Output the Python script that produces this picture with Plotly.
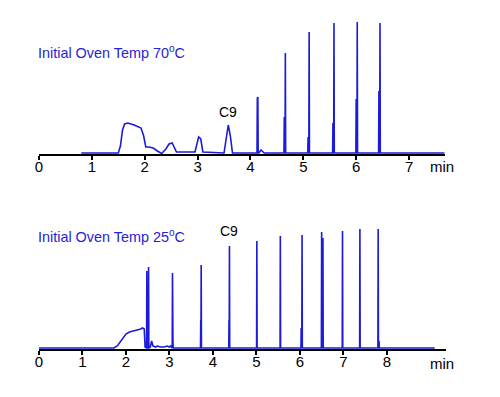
import plotly.graph_objects as go

# The page body has an 8px margin; the figure is sized so that it plus the
# margin fills the 500x397 window exactly.
OFF = 8
W, H = 500 - 2 * OFF, 397 - 2 * OFF

# ---------------- data: Initial Oven Temp 70 C (top) ----------------
top_hump_t = [0.80, 1.50, 1.54, 1.58, 1.62, 1.68, 1.80, 1.93, 1.98, 2.02, 2.08, 2.16, 2.24, 2.32,
              2.40, 2.46, 2.52, 2.56, 2.60, 2.95, 2.99, 3.02, 3.06, 3.10, 3.50, 3.54, 3.58, 3.62, 3.66, 4.08]
top_hump_y = [1, 1, 8, 24, 30, 31, 29, 26, 18, 7, 7, 6, 3, 0.5,
              5, 10, 11, 7, 2, 2, 12, 17, 15, 2, 1, 14, 29, 18, 1, 1]
top_peak_t = [4.14, 4.66, 5.11, 5.58, 6.02, 6.45]
top_peak_h = [57, 101, 122, 131, 132, 131]
top_sh_t = [4.13, 4.64, 5.09, 5.56, 6.00, 6.43]
top_sh_h = [56, 37, 17, 31, 55, 63]
top_end_t = [4.16, 4.20, 4.26, 7.67]
top_end_y = [1, 4, 1, 1]
top_ticks = [0, 1, 2, 3, 4, 5, 6, 7]

# ---------------- data: Initial Oven Temp 25 C (bottom) ----------------
bot_hump_t = [0.00, 1.72, 1.80, 1.88, 1.95, 2.00, 2.08, 2.18, 2.28, 2.34, 2.38, 2.42, 2.44]
bot_hump_y = [1, 1, 3, 8, 13, 15, 17, 18, 19, 20, 21, 20, 2]
bot_noise_t = [2.56, 2.59, 2.62, 2.68, 2.72, 2.80, 2.88, 2.95, 3.00, 3.03]
bot_noise_y = [2, 8, 3, 2, 3, 2, 2, 3, 2, 3]
bot_peak_t = [2.48, 2.52, 3.07, 3.73, 4.38, 5.01, 5.55, 6.05, 6.50, 6.53, 6.98, 7.38, 7.80]
bot_peak_h = [78, 82, 76, 84, 103, 108, 113, 114, 117, 111, 118, 120, 120]
bot_sh_t = [3.08, 3.72, 4.37, 6.03, 7.82]
bot_sh_h = [10, 29, 29, 21, 8]
bot_end_t = [9.10]
bot_ticks = [0, 1, 2, 3, 4, 5, 6, 7, 8]

BLUE = "#1b1bd9"
TITLE_BLUE = "#2424d4"
FONT = "Liberation Sans, Arial, sans-serif"


def px(p):
    return (p - OFF) / W


def py(p):
    return 1 - (p - OFF) / H


def build(hump_t, hump_y, peaks, shoulders, tail_t, tail_y, extra=None):
    w = 0.006
    events = []
    for t, y in zip(hump_t, hump_y):
        events.append((t, 0, [(t, y)]))
    if extra:
        for t, y in extra:
            events.append((t, 0, [(t, y)]))
    for t, h in list(zip(*peaks)) + list(zip(*shoulders)):
        events.append((t, 1, [(t - w, 1), (t, h), (t + w, 1)]))
    for t, y in zip(tail_t, tail_y):
        events.append((t, 0, [(t, y)]))
    events.sort(key=lambda e: (e[0], e[1]))
    xs, ys = [], []
    for _, _, seg in events:
        for a, b in seg:
            xs.append(a)
            ys.append(b)
    return xs, ys


tx, ty = build(top_hump_t, top_hump_y, (top_peak_t, top_peak_h), (top_sh_t, top_sh_h),
               top_end_t, top_end_y)
bx, by = build(bot_hump_t, bot_hump_y, (bot_peak_t, bot_peak_h), (bot_sh_t, bot_sh_h),
               bot_end_t, [1], extra=list(zip(bot_noise_t, bot_noise_y)))

fig = go.Figure()
fig.add_trace(go.Scatter(x=tx, y=ty, mode="lines", line=dict(color=BLUE, width=1.6),
                         xaxis="x", yaxis="y", hoverinfo="skip", showlegend=False))
fig.add_trace(go.Scatter(x=bx, y=by, mode="lines", line=dict(color=BLUE, width=1.6),
                         xaxis="x2", yaxis="y2", hoverinfo="skip", showlegend=False))

axis_common = dict(showline=True, linecolor="black", linewidth=2, ticks="outside",
                   ticklen=4, tickwidth=1.5, tickcolor="black", showgrid=False, zeroline=False,
                   automargin=False, ticklabelstandoff=-6,
                   tickfont=dict(family=FONT, size=15, color="black"))

fig.update_layout(
    width=W, height=H,
    margin=dict(l=0, r=0, t=0, b=0, pad=0, autoexpand=False),
    paper_bgcolor="white", plot_bgcolor="white",
    xaxis=dict(domain=[px(39), px(445)], range=[0, 7.68], anchor="y",
               tickvals=top_ticks, **axis_common),
    yaxis=dict(domain=[py(154), py(8)], range=[0, 146], visible=False, anchor="x",
               automargin=False),
    xaxis2=dict(domain=[px(39), px(446)], range=[0, 9.36], anchor="y2",
                tickvals=bot_ticks, **axis_common),
    yaxis2=dict(domain=[py(349), py(200)], range=[0, 149], visible=False, anchor="x2",
                automargin=False),
)

ann = []
ann.append(dict(text="Initial Oven Temp 70<sup>o</sup>C", x=px(36), y=py(52),
                xref="paper", yref="paper", xanchor="left", yanchor="middle", showarrow=False,
                font=dict(family=FONT, size=14.4, color=TITLE_BLUE)))
ann.append(dict(text="Initial Oven Temp 25<sup>o</sup>C", x=px(36), y=py(236),
                xref="paper", yref="paper", xanchor="left", yanchor="middle", showarrow=False,
                font=dict(family=FONT, size=14.4, color=TITLE_BLUE)))
ann.append(dict(text="C9", x=3.58, y=42, xref="x", yref="y", xanchor="center",
                yanchor="middle", showarrow=False, font=dict(family=FONT, size=14, color="black")))
ann.append(dict(text="C9", x=4.38, y=118, xref="x2", yref="y2", xanchor="center",
                yanchor="middle", showarrow=False, font=dict(family=FONT, size=14, color="black")))
ann.append(dict(text="min", x=px(442), y=py(167), xref="paper", yref="paper",
                xanchor="center", yanchor="middle", showarrow=False,
                font=dict(family=FONT, size=15, color="black")))
ann.append(dict(text="min", x=px(442), y=py(363), xref="paper", yref="paper",
                xanchor="center", yanchor="middle", showarrow=False,
                font=dict(family=FONT, size=15, color="black")))
fig.update_layout(annotations=ann)

fig.write_html("out.html")
